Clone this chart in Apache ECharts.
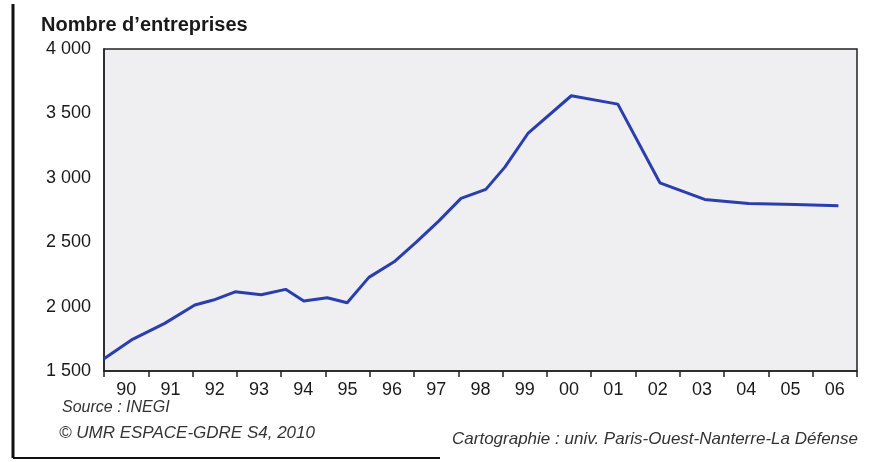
<!DOCTYPE html>
<html>
<head>
<meta charset="utf-8">
<script src="https://cdn.jsdelivr.net/npm/echarts@6/dist/echarts.min.js"></script>
<style>
  html, body { margin: 0; padding: 0; background: #fff; }
  #chart { width: 880px; height: 462px; }
</style>
</head>
<body>
<div id="chart"></div>
<script>
// year labels (one per band) and the y tick values
const yearLabels = ['90', '91', '92', '93', '94', '95', '96', '97', '98', '99', '00', '01', '02', '03', '04', '05', '06'];
const yTicks = [1500, 2000, 2500, 3000, 3500, 4000];

// points: position in years, number of firms
const pointYears = [1990.0, 1990.62, 1991.37, 1992.05, 1992.47, 1992.96, 1993.55, 1994.1, 1994.51, 1995.04, 1995.49, 1995.98, 1996.55, 1997.05, 1997.55, 1998.06, 1998.62, 1999.05, 1999.57, 2000.55, 2001.6, 2002.55, 2003.56, 2004.55, 2005.6, 2006.58];
const firms = [1595, 1741, 1870, 2012, 2051, 2115, 2092, 2134, 2043, 2069, 2030, 2227, 2348, 2500, 2662, 2840, 2910, 3083, 3344, 3637, 3572, 2961, 2832, 2801, 2793, 2783];

const chart = echarts.init(document.getElementById('chart'));

const fmt = v => {
  const s = String(v);
  return s.length > 3 ? s.slice(0, s.length - 3) + ' ' + s.slice(-3) : s;
};

const FONT = 'Liberation Sans, Arial, sans-serif';

chart.setOption({
  animation: false,
  textStyle: { fontFamily: FONT },
  grid: {
    left: 104, right: 23, top: 49, bottom: 91,
    show: true,
    backgroundColor: '#efeef1',
    borderColor: '#222',
    borderWidth: 1.5
  },
  xAxis: [
    {
      type: 'category',
      data: yearLabels,
      boundaryGap: true,
      axisLine: { lineStyle: { color: '#222', width: 1.5 } },
      axisTick: { show: true, length: 6, lineStyle: { color: '#222', width: 1.5 } },
      axisLabel: { color: '#1a1a1a', fontSize: 18, margin: 10, interval: 0 }
    },
    {
      type: 'value',
      min: 1990,
      max: 2007,
      show: false
    }
  ],
  yAxis: {
    type: 'value',
    min: yTicks[0],
    max: yTicks[yTicks.length - 1],
    interval: 500,
    axisLine: { show: true, lineStyle: { color: '#222', width: 1.5 } },
    axisTick: { show: false },
    splitLine: { show: false },
    axisLabel: { color: '#1a1a1a', fontSize: 18, margin: 13, formatter: fmt }
  },
  series: [
    {
      type: 'line',
      xAxisIndex: 1,
      data: pointYears.map((y, i) => [y, firms[i]]),
      showSymbol: false,
      lineStyle: { color: '#2b3eae', width: 3 },
      z: 3
    }
  ],
  graphic: [
    {
      type: 'text', left: 41, top: 15,
      style: { text: 'Nombre d\u2019entreprises', font: 'bold 20px ' + FONT, fill: '#1a1a1a' }
    },
    {
      type: 'text', left: 62, top: 400,
      style: { text: 'Source : INEGI', font: 'italic 16px ' + FONT, fill: '#333' }
    },
    {
      type: 'text', left: 59, top: 425,
      style: { text: '\u00a9 UMR ESPACE-GDRE S4, 2010', font: 'italic 17px ' + FONT, fill: '#333' }
    },
    {
      type: 'text', right: 22, top: 431,
      style: { text: 'Cartographie : univ. Paris-Ouest-Nanterre-La D\u00e9fense', font: 'italic 17px ' + FONT, fill: '#333' }
    },
    {
      type: 'line', shape: { x1: 13, y1: 4, x2: 13, y2: 458 },
      style: { stroke: '#111', lineWidth: 3 }
    },
    {
      type: 'line', shape: { x1: 13, y1: 458, x2: 440, y2: 458 },
      style: { stroke: '#111', lineWidth: 2 }
    }
  ]
});
</script>
</body>
</html>
